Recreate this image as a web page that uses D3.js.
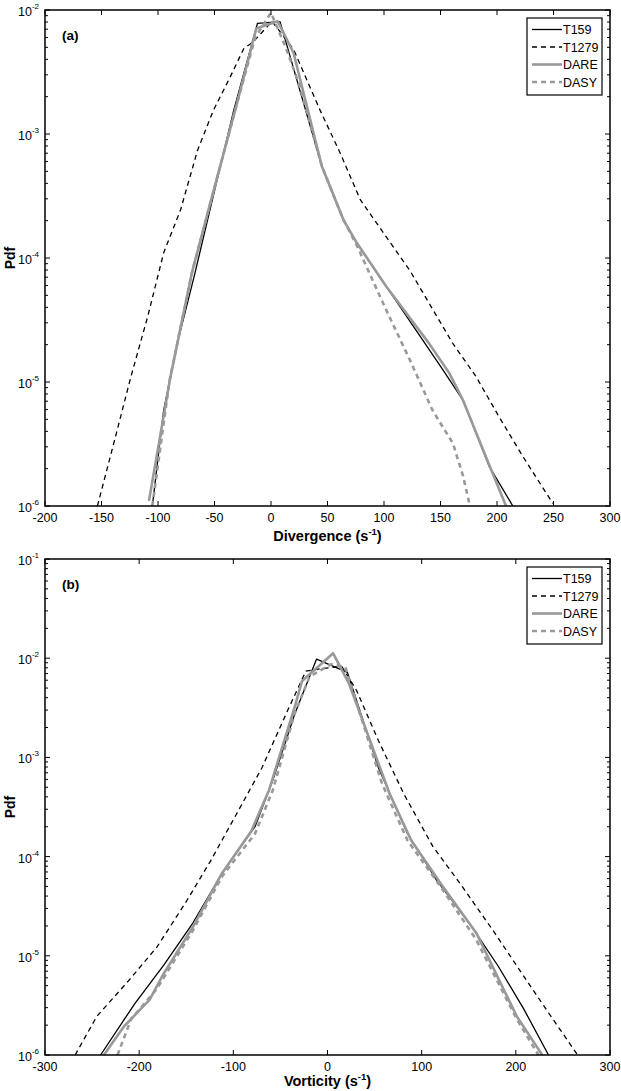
<!DOCTYPE html>
<html><head><meta charset="utf-8">
<script src="https://cdn.jsdelivr.net/npm/d3@7"></script>
<style>
body{margin:0;background:#fff}
svg{display:block}
text{font-family:Arial,"Liberation Sans",Helvetica,sans-serif;fill:#000}
</style>
</head><body>
<svg id="c" width="621" height="1091"></svg>
<script>
// ---------- data ----------
const seriesNames = ["T159", "T1279", "DARE", "DASY"];

// Panel (a): Divergence
const divT159X   = [-105, -95, -83, -68, -54, -33, -12, 8, 45, 64, 76, 102, 152, 170, 193, 214];
const divT159Pdf = [1e-6, 5.9e-6, 2.04e-5, 7.1e-5, 2.45e-4, 1.55e-3, 7.8e-3, 8.05e-3, 5.5e-4, 2.04e-4, 1.32e-4, 5.9e-5, 1.26e-5, 7.1e-6, 2.1e-6, 1e-6];

const divT1279X   = [-153.6, -139, -124, -109, -95, -80, -65, -51, -36, -24, -16, 1, 20, 43.5, 61, 79, 102, 123, 143.5, 161, 181.6, 202, 223, 249.4];
const divT1279Pdf = [1e-6, 3.24e-6, 1.1e-5, 3.4e-5, 1.1e-4, 2.45e-4, 7.4e-4, 1.55e-3, 2.9e-3, 4.9e-3, 5.5e-3, 8.1e-3, 4.8e-3, 1.55e-3, 7.1e-4, 2.95e-4, 1.48e-4, 7.9e-5, 3.8e-5, 2.04e-5, 1.1e-5, 5.2e-6, 2.5e-6, 1.05e-6];

const divDAREX   = [-108, -89, -70, -55, -30, -13, 6, 20, 45, 64, 76, 102, 140, 158, 170, 193.5, 208];
const divDAREPdf = [1.1e-6, 1.1e-5, 7.6e-5, 2.5e-4, 1.78e-3, 7.1e-3, 8.1e-3, 4.5e-3, 5.5e-4, 2.04e-4, 1.32e-4, 5.9e-5, 2.04e-5, 1.17e-5, 7.1e-6, 2.1e-6, 1e-6];

const divDASYX   = [-105, -90, -70, -55, -30, -14, 0, 13, 25, 45, 64, 76, 102, 123, 143, 161, 170, 176];
const divDASYPdf = [1e-6, 1e-5, 7.6e-5, 2.5e-4, 1.78e-3, 6.0e-3, 9.5e-3, 5.0e-3, 2.5e-3, 5.5e-4, 2.04e-4, 1.26e-4, 3.8e-5, 1.5e-5, 5.9e-6, 3.2e-6, 1.74e-6, 1e-6];

// Panel (b): Vorticity
const vorT159X   = [-241, -204.6, -173.7, -143, -112, -77, -58, -34.7, -11.6, 21.2, 54, 85, 116, 150.6, 181.5, 208.5, 234.7];
const vorT159Pdf = [1e-6, 3.3e-6, 8.1e-6, 2.14e-5, 6.8e-5, 2.0e-4, 5.9e-4, 2.75e-3, 9.8e-3, 7.2e-3, 7.9e-4, 1.7e-4, 5.75e-5, 2.14e-5, 7.8e-6, 2.9e-6, 1e-6];

const vorT1279X   = [-268, -245, -212, -181, -151, -124, -96.5, -69.5, -42.5, -23, -8, 15, 31, 54, 81, 112, 143, 177.6, 208.5, 235.5, 265.6];
const vorT1279Pdf = [1e-6, 2.45e-6, 5.5e-6, 1.23e-5, 3.4e-5, 9.1e-5, 2.7e-4, 7.9e-4, 2.95e-3, 7.4e-3, 7.8e-3, 8.3e-3, 4.7e-3, 1.48e-3, 4.3e-4, 1.26e-4, 5.0e-5, 1.7e-5, 6.2e-6, 2.6e-6, 1e-6];

const vorDAREX   = [-237.5, -216, -189, -174, -143, -112, -81, -62, -35, -27, 6, 23, 66, 89, 120, 158, 201, 228];
const vorDAREPdf = [1e-6, 1.95e-6, 3.6e-6, 6.6e-6, 1.95e-5, 6.8e-5, 1.8e-4, 4.7e-4, 3.2e-3, 5.9e-3, 1.12e-2, 5.5e-3, 4.3e-4, 1.45e-4, 5.4e-5, 1.7e-5, 2.45e-6, 1e-6];

const vorDASYX   = [-223, -208.5, -181.5, -143, -112, -77, -58, -35, -19, 4, 19, 58, 85, 120, 158, 201, 224];
const vorDASYPdf = [1e-6, 2.3e-6, 4.6e-6, 1.8e-5, 6.3e-5, 1.7e-4, 4.7e-4, 2.75e-3, 6.5e-3, 8.7e-3, 8.1e-3, 5.4e-4, 1.45e-4, 5.0e-5, 1.45e-5, 2.3e-6, 1e-6];

// ticks
const divXTicks = [-200, -150, -100, -50, 0, 50, 100, 150, 200, 250, 300];
const vorXTicks = [-300, -200, -100, 0, 100, 200, 300];
const divYExps  = [-6, -5, -4, -3, -2];
const vorYExps  = [-6, -5, -4, -3, -2, -1];

// ---------- styles ----------
const styleOf = {
  T159:  {color: "#000000", width: 1.3, dash: null},
  T1279: {color: "#000000", width: 1.3, dash: "5,4"},
  DARE:  {color: "#999999", width: 2.6, dash: null},
  DASY:  {color: "#999999", width: 2.6, dash: "5,4"}
};

const svg = d3.select("#c");

function drawPanel(cfg) {
  const {left, right, top, bottom} = cfg;
  const x = d3.scaleLinear().domain(cfg.xDomain).range([left, right]);
  const y = d3.scaleLog().domain(cfg.yDomain).range([bottom, top]);
  const g = svg.append("g");

  const clipId = "clip" + cfg.id;
  svg.append("clipPath").attr("id", clipId).append("rect")
    .attr("x", left).attr("y", top).attr("width", right - left).attr("height", bottom - top);

  // lines
  const line = d3.line().x(d => x(d[0])).y(d => y(d[1]));
  cfg.series.forEach(s => {
    const st = styleOf[s.name];
    const pts = s.x.map((v, i) => [v, s.pdf[i]]);
    g.append("path").datum(pts)
      .attr("clip-path", `url(#${clipId})`)
      .attr("d", line)
      .attr("fill", "none")
      .attr("stroke", st.color)
      .attr("stroke-width", st.width)
      .attr("stroke-dasharray", st.dash)
      .attr("stroke-linejoin", "round");
  });

  // ticks: x (top & bottom, inward)
  const tk = g.append("g").attr("stroke", "#000").attr("stroke-width", 1);
  cfg.xTicks.forEach(t => {
    const px = x(t);
    tk.append("line").attr("x1", px).attr("x2", px).attr("y1", bottom).attr("y2", bottom - 5);
    tk.append("line").attr("x1", px).attr("x2", px).attr("y1", top).attr("y2", top + 5);
    g.append("text").attr("x", px).attr("y", bottom + 16)
      .attr("text-anchor", "middle").attr("font-size", 12.5).text(String(t));
  });

  // y ticks (log, major + minor), left & right inward
  const [e0, e1] = [cfg.yExps[0], cfg.yExps[cfg.yExps.length - 1]];
  for (let e = e0; e <= e1; e++) {
    const py = y(Math.pow(10, e));
    tk.append("line").attr("x1", left).attr("x2", left + 5).attr("y1", py).attr("y2", py);
    tk.append("line").attr("x1", right).attr("x2", right - 5).attr("y1", py).attr("y2", py);
    if (e < e1) {
      for (let m = 2; m <= 9; m++) {
        const pm = y(m * Math.pow(10, e));
        tk.append("line").attr("x1", left).attr("x2", left + 3).attr("y1", pm).attr("y2", pm);
        tk.append("line").attr("x1", right).attr("x2", right - 3).attr("y1", pm).attr("y2", pm);
      }
    }
  }
  cfg.yExps.forEach(e => {
    const py = y(Math.pow(10, e));
    const t = g.append("text").attr("x", 39).attr("y", py + 6)
      .attr("text-anchor", "end").attr("font-size", 12.5);
    t.append("tspan").text("10");
    t.append("tspan").attr("dy", -7).attr("font-size", 8).text(String(e));
  });

  // frame
  g.append("rect").attr("x", left).attr("y", top)
    .attr("width", right - left).attr("height", bottom - top)
    .attr("fill", "none").attr("stroke", "#000").attr("stroke-width", 1.5);

  // panel tag
  g.append("text").attr("x", 62).attr("y", top + 30)
    .attr("font-size", 13.5).attr("font-weight", "bold").text(cfg.tag);

  // y label
  g.append("text")
    .attr("transform", `translate(15,${(top + bottom) / 2}) rotate(-90)`)
    .attr("text-anchor", "middle").attr("font-size", 14).attr("font-weight", "bold")
    .text("Pdf");

  // x label
  const xl = g.append("text").attr("x", (left + right) / 2).attr("y", bottom + cfg.xLabelOffset)
    .attr("text-anchor", "middle").attr("font-size", 14.5).attr("font-weight", "bold");
  xl.append("tspan").text(cfg.xLabel + " (s");
  xl.append("tspan").attr("dy", -6).attr("font-size", 9.5).text("-1");
  xl.append("tspan").attr("dy", 6).text(")");

  // legend
  const lx = right - 83, ly = top + 8, lw = 75, lh = 77;
  const lg = g.append("g");
  lg.append("rect").attr("x", lx).attr("y", ly).attr("width", lw).attr("height", lh)
    .attr("fill", "#fff").attr("stroke", "#000").attr("stroke-width", 1.2);
  seriesNames.forEach((n, i) => {
    const st = styleOf[n];
    const cy = ly + 11.5 + i * 17.5;
    lg.append("line").attr("x1", lx + 5).attr("x2", lx + 35).attr("y1", cy).attr("y2", cy)
      .attr("stroke", st.color).attr("stroke-width", st.width).attr("stroke-dasharray", st.dash);
    lg.append("text").attr("x", lx + 36).attr("y", cy + 4.5).attr("font-size", 12.5).text(n);
  });
}

drawPanel({
  id: "a", tag: "(a)", xLabel: "Divergence", xLabelOffset: 35,
  left: 45, right: 610, top: 10, bottom: 506,
  xDomain: [-200, 300], yDomain: [1e-6, 1e-2],
  xTicks: divXTicks, yExps: divYExps,
  series: [
    {name: "T159",  x: divT159X,  pdf: divT159Pdf},
    {name: "T1279", x: divT1279X, pdf: divT1279Pdf},
    {name: "DARE",  x: divDAREX,  pdf: divDAREPdf},
    {name: "DASY",  x: divDASYX,  pdf: divDASYPdf}
  ]
});

drawPanel({
  id: "b", tag: "(b)", xLabel: "Vorticity", xLabelOffset: 31,
  left: 45, right: 610, top: 559, bottom: 1055,
  xDomain: [-300, 300], yDomain: [1e-6, 1e-1],
  xTicks: vorXTicks, yExps: vorYExps,
  series: [
    {name: "T159",  x: vorT159X,  pdf: vorT159Pdf},
    {name: "T1279", x: vorT1279X, pdf: vorT1279Pdf},
    {name: "DARE",  x: vorDAREX,  pdf: vorDAREPdf},
    {name: "DASY",  x: vorDASYX,  pdf: vorDASYPdf}
  ]
});
</script>
</body></html>
